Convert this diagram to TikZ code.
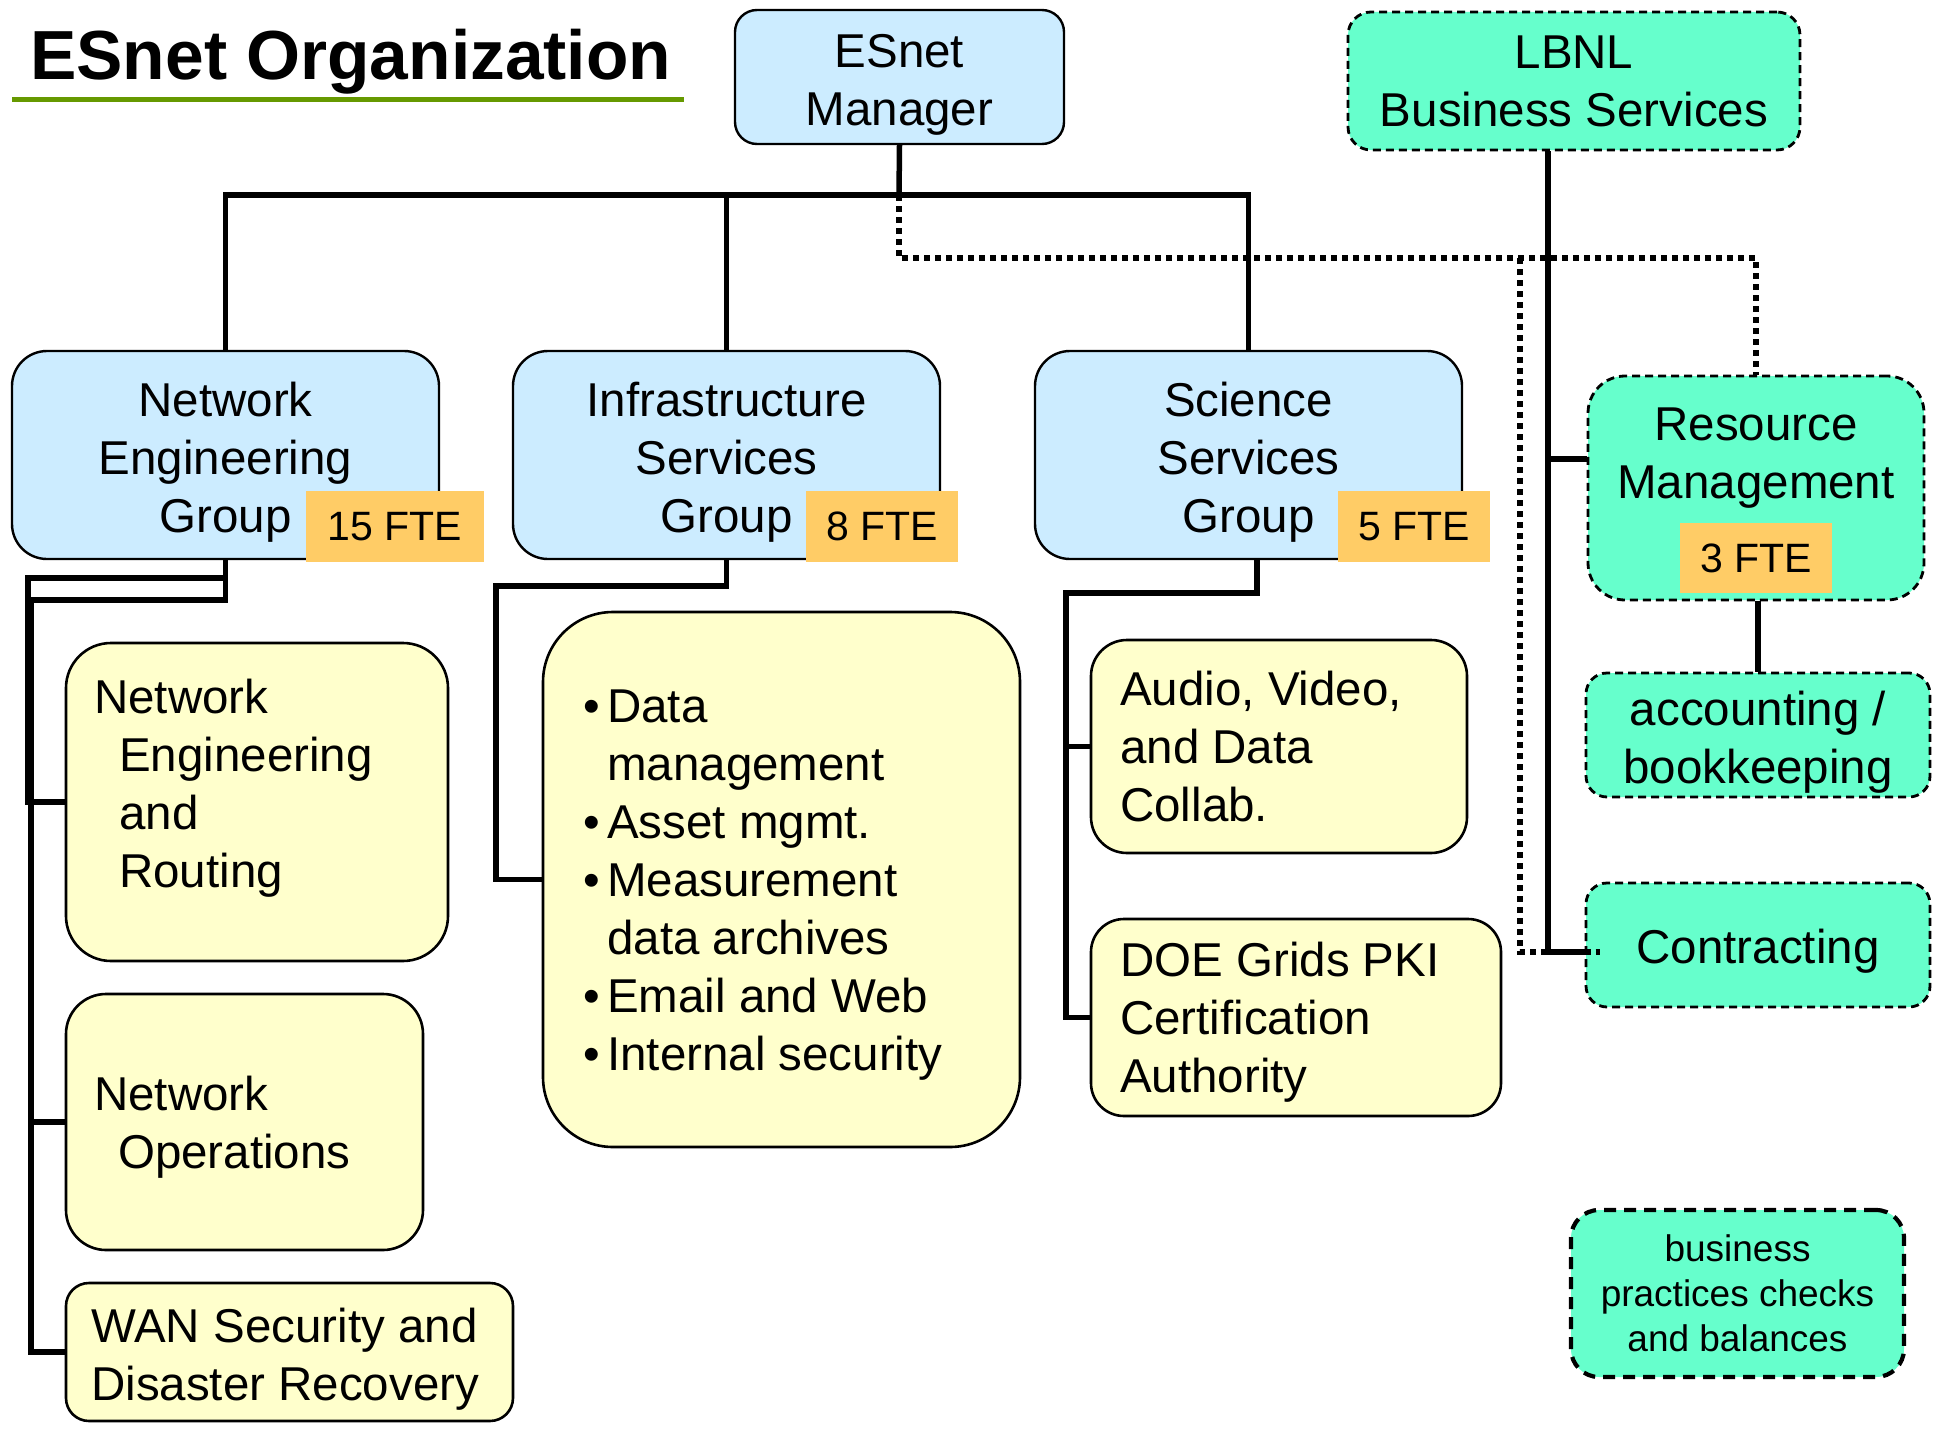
\documentclass[tikz,border=0pt]{standalone}
\usepackage{fontspec}
\setmainfont{Liberation Sans}
\usetikzlibrary{backgrounds,calc}
\definecolor{bluef}{HTML}{CCECFF}
\definecolor{ylwf}{HTML}{FFFFCC}
\definecolor{grnf}{HTML}{66FFCC}
\definecolor{ftef}{HTML}{FFCC66}
\definecolor{titleline}{HTML}{669900}
\newcommand\bigf{\fontsize{47.5}{58}\selectfont}
\newcommand\ftefont{\fontsize{41}{49}\selectfont}
\newcommand\smf{\fontsize{37}{45}\selectfont}
\newcommand\titlef{\fontsize{69.5}{80}\selectfont\bfseries}
\newcommand\tup[1]{\rule{0pt}{#1pt}}
\newcommand\ibul{\makebox[24pt][l]{\textbullet}}
\begin{document}
\begin{tikzpicture}[x=1pt,y=-1pt,
  bluebox/.style={draw=black, line width=2.4pt, fill=bluef, align=center, font=\bigf, inner sep=0pt},
  ylwbox/.style={draw=black, line width=2.6pt, fill=ylwf, inner sep=0pt},
  grnbox/.style={draw=black, line width=2.8pt, dash pattern=on 8pt off 5pt, fill=grnf, align=center, font=\bigf, inner sep=0pt},
  bizbox/.style={draw=black, line width=4.2pt, dash pattern=on 12pt off 8pt, fill=grnf, align=center, font=\smf, inner sep=0pt},
  ftebox/.style={fill=ftef, draw=none, font=\ftefont, inner sep=0pt},
  txt/.style={align=left, font=\bigf, inner sep=0pt, anchor=north west},
  conn/.style={line width=5.5pt},
  dotconn/.style={line width=6pt, dash pattern=on 6pt off 5pt}]
\begin{scope}[on background layer]
\fill[white] (0,0) rectangle (1944,1429);
\end{scope}
\useasboundingbox (0,0) rectangle (1944,1429);

% title
\node[anchor=base west, font=\titlef, inner sep=0pt] (title) at (30,79) {ESnet Organization};
\draw[titleline, line width=5pt] (12,99) -- (684,99);

% top level
\node[bluebox, rounded corners=22pt, minimum width=329pt, minimum height=134pt] (mgr) at (899.5,77) {\tup{48}ESnet\\Manager};
\node[grnbox, rounded corners=23pt, minimum width=452pt, minimum height=138pt] (lbnl) at (1574,81) {LBNL\\Business Services};

% groups
\node[bluebox, rounded corners=35pt, minimum width=427pt, minimum height=208pt] (neg) at (225.5,455) {\tup{48}Network\\Engineering\\Group};
\node[bluebox, rounded corners=35pt, minimum width=427pt, minimum height=208pt] (isg) at (726.5,455) {\tup{48}Infrastructure\\Services\\Group};
\node[bluebox, rounded corners=35pt, minimum width=427pt, minimum height=208pt] (ssg) at (1248.5,455) {\tup{48}Science\\Services\\Group};
\node[ftebox, minimum width=178pt, minimum height=71pt] (fte15) at (395,526.5) {15 FTE};
\node[ftebox, minimum width=152pt, minimum height=71pt] (fte8) at (882,526.5) {8 FTE};
\node[ftebox, minimum width=152pt, minimum height=71pt] (fte5) at (1414,526.5) {5 FTE};

% business side
\node[grnbox, rounded corners=37pt, minimum width=336pt, minimum height=224pt] (rm) at (1756,488) {Resource\\Management\rule[-70pt]{0pt}{0pt}};
\node[ftebox, minimum width=152pt, minimum height=70pt] (fte3) at (1756,558) {3 FTE};
\node[grnbox, rounded corners=21pt, minimum width=344pt, minimum height=124pt] (acct) at (1758,735) {\tup{48}accounting /\\bookkeeping};
\node[grnbox, rounded corners=21pt, minimum width=344pt, minimum height=124pt] (contr) at (1758,945) {\tup{46}Contracting};
\node[bizbox, rounded corners=28pt, minimum width=333pt, minimum height=167pt] (biz) at (1737.5,1293.5) {business\\practices checks\\and balances};

% network engineering subunits
\node[ylwbox, rounded corners=45pt, minimum width=382pt, minimum height=318pt] (ner) at (257,802) {};
\node[txt] (nert) at (94,679) {Network\\\hspace*{25pt}Engineering\\\hspace*{25pt}and\\\hspace*{25pt}Routing};
\node[ylwbox, rounded corners=40pt, minimum width=357pt, minimum height=256pt] (no) at (244.5,1122) {};
\node[txt] (not) at (94,1076) {Network\\\hspace*{24pt}Operations};
\node[ylwbox, rounded corners=23pt, minimum width=447pt, minimum height=138pt] (wan) at (289.5,1352) {};
\node[txt] (want) at (91,1308) {WAN Security and\\Disaster Recovery};

% infrastructure
\node[ylwbox, rounded corners=70pt, minimum width=477pt, minimum height=535pt] (inf) at (781.5,879.5) {};
\node[txt] (inft) at (583,690) {\ibul Data\\\hspace*{24pt}management\\\ibul Asset mgmt.\\\ibul Measurement\\\hspace*{24pt}data archives\\\ibul Email and Web\\\ibul Internal security};

% science services
\node[ylwbox, rounded corners=36pt, minimum width=376pt, minimum height=213pt] (aud) at (1279,746.5) {};
\node[txt] (audt) at (1120,671) {Audio, Video,\\and Data\\Collab.};
\node[ylwbox, rounded corners=33pt, minimum width=410pt, minimum height=197pt] (doe) at (1296,1017.5) {};
\node[txt] (doet) at (1120,942) {DOE Grids PKI\\Certification\\Authority};

% connectors
\begin{scope}[on background layer]
\coordinate (bar) at (899,195);
\draw[conn] (mgr.south) -- (bar);
\draw[conn] (neg.north) -- (neg.north |- bar) -- (ssg.north |- bar) -- (ssg.north);
\draw[conn] (isg.north) -- (isg.north |- bar);
\coordinate (dtop) at (899,258);
\coordinate (djn) at (1520,258);
\coordinate (cj) at (0,952);
\coordinate (rj) at (0,459);
\coordinate (lb) at (1548,0);
\draw[dotconn] (bar) -- (dtop) -- (rm.north |- dtop) -- (rm.north);
\draw[dotconn] (djn) -- (djn |- cj) -- (contr.west |- cj);
\draw[conn] (lbnl.south -| lb) -- (lb |- cj) -- (contr.west |- cj);
\draw[conn] (lb |- rj) -- (rm.west |- rj);
\draw[conn] (acct.north) -- (acct.north |- rm.south);
\coordinate (lx1) at (28,578);
\coordinate (lx2) at (31,600);
\draw[conn] (neg.south) |- (lx1) |- (ner.west);
\draw[conn] (neg.south) |- (lx2) |- (wan.west);
\draw[conn] (no.west) -- (no.west -| lx2);
\coordinate (ix) at (496,586);
\draw[conn] (isg.south) |- (ix) |- (inf.west);
\coordinate (sx) at (1066,593);
\coordinate (sb) at (1257,0);
\draw[conn] (ssg.south -| sb) |- (sx) |- (doe.west);
\draw[conn] (aud.west) -- (aud.west -| sx);
\end{scope}
\draw[dotconn] (contr.west |- cj) -- ++(15,0);
\end{tikzpicture}
\end{document}
